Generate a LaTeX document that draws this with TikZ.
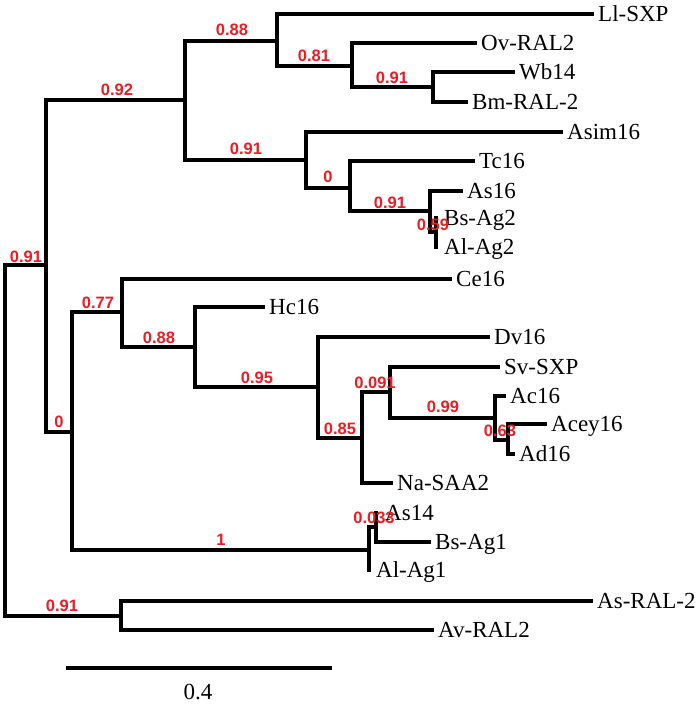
\documentclass[tikz,border=0pt]{standalone}
\usepackage{fontspec}
\setmainfont{Liberation Serif}
\newfontfamily\lblsans{Liberation Sans}
\definecolor{suppred}{RGB}{236,28,36}
\begin{document}
\begin{tikzpicture}[x=1pt,y=-1pt,
  br/.style={line width=3.3pt, line cap=rect, line join=miter},
  brk/.style={br, line width=4.2pt},
  leaf/.style={anchor=west, inner xsep=6pt, inner ysep=0pt, font=\fontsize{23}{23}\selectfont, text height=15.2pt, text depth=0pt},
  bsv/.style={text=suppred, font=\lblsans\bfseries\fontsize{16.5}{16.5}\selectfont, inner sep=0pt}]
\useasboundingbox (0,0) rectangle (700,705);
% internal nodes
\coordinate (r) at (5,616);
\coordinate (a) at (46,265);
\coordinate (ab) at (121,616);
\coordinate (t) at (185,100);
\coordinate (u) at (72,432);
\coordinate (c88) at (277,41);
\coordinate (c81) at (352,66);
\coordinate (c91a) at (433,87);
\coordinate (c91b) at (306,160);
\coordinate (c0) at (350,188);
\coordinate (c91c) at (430,211);
\coordinate (c59) at (436,232);
\coordinate (c77) at (122,312);
\coordinate (c88b) at (195,347);
\coordinate (c95) at (318,387);
\coordinate (c85) at (362,438);
\coordinate (c091) at (390,392);
\coordinate (c99) at (495,418);
\coordinate (c63) at (508,440);
\coordinate (c1) at (369,550);
\coordinate (c033) at (376,527);
% leaves
\node[leaf] (Ll) at (592,14) {Ll-SXP};
\node[leaf] (Ov) at (475,43) {Ov-RAL2};
\node[leaf] (Wb) at (513,72) {Wb14};
\node[leaf] (Bm) at (466,102) {Bm-RAL-2};
\node[leaf] (Asim) at (561,132) {Asim16};
\node[leaf] (Tc) at (473,161) {Tc16};
\node[leaf] (AsA) at (461,191) {As16};
\node[leaf, inner xsep=8pt] (BsAg2) at (436,218) {Bs-Ag2};
\node[leaf, inner xsep=8pt] (AlAg2) at (436,247) {Al-Ag2};
\node[leaf] (Ce) at (450,279) {Ce16};
\node[leaf] (Hc) at (263,307) {Hc16};
\node[leaf] (Dv) at (488,337) {Dv16};
\node[leaf] (Sv) at (498,367) {Sv-SXP};
\node[leaf] (Ac) at (504,396) {Ac16};
\node[leaf] (Acey) at (545,424) {Acey16};
\node[leaf] (Ad) at (513,454) {Ad16};
\node[leaf] (Na) at (391,483) {Na-SAA2};
\node[leaf, inner xsep=9pt] (AsB) at (376,513) {As14};
\node[leaf] (BsAg1) at (429,542) {Bs-Ag1};
\node[leaf, inner xsep=7pt] (AlAg1) at (369,570) {Al-Ag1};
\node[leaf] (AsRAL) at (591,601) {As-RAL-2};
\node[leaf] (AvRAL) at (432,630) {Av-RAL2};
% branches
\draw[brk] (r) |- (a);
\draw[br] (r) |- (ab);
\draw[br] (a) |- (t);
\draw[br] (a) |- (u);
\draw[brk] (t) |- (c88);
\draw[br] (t) |- (c91b);
\draw[brk] (c88) |- (Ll.west);
\draw[br] (c88) |- (c81);
\draw[br] (c81) |- (Ov.west);
\draw[br] (c81) |- (c91a);
\draw[brk] (c91a) |- (Wb.west);
\draw[brk] (c91a) |- (Bm.west);
\draw[brk] (c91b) |- (Asim.west);
\draw[br] (c91b) |- (c0);
\draw[br] (c0) |- (Tc.west);
\draw[br] (c0) |- (c91c);
\draw[brk] (c91c) |- (AsA.west);
\draw[brk] (c91c) |- (c59);
\draw[brk] (c59) |- (436,218);
\draw[brk] (c59) |- (436,247);
\draw[br] (u) |- (c77);
\draw[br] (u) |- (c1);
\draw[br] (c77) |- (Ce.west);
\draw[brk] (c77) |- (c88b);
\draw[br] (c88b) |- (Hc.west);
\draw[br] (c88b) |- (c95);
\draw[brk] (c95) |- (Dv.west);
\draw[br] (c95) |- (c85);
\draw[brk] (c85) |- (c091);
\draw[br] (c85) |- (Na.west);
\draw[br] (c091) |- (Sv.west);
\draw[br] (c091) |- (c99);
\draw[brk] (c99) |- (Ac.west);
\draw[brk] (c99) |- (c63);
\draw[br] (c63) |- (Acey.west);
\draw[brk] (c63) |- (Ad.west);
\draw[br] (c1) |- (c033);
\draw[br] (c1) |- (AlAg1.west);
\draw[brk] (c033) |- (376,513);
\draw[br] (c033) |- (BsAg1.west);
\draw[br] (ab) |- (AsRAL.west);
\draw[br] (ab) |- (AvRAL.west);
% support values
\node[bsv] (s1) at (26,257) {0.91};
\node[bsv] (s2) at (117,90) {0.92};
\node[bsv] (s3) at (232,30) {0.88};
\node[bsv] (s4) at (314,56) {0.81};
\node[bsv] (s5) at (392,78) {0.91};
\node[bsv] (s6) at (246,149) {0.91};
\node[bsv] (s7) at (328,177) {0};
\node[bsv] (s8) at (390,203) {0.91};
\node[bsv] (s9) at (433,225) {0.59};
\node[bsv] (s10) at (59,422) {0};
\node[bsv] (s11) at (98,303) {0.77};
\node[bsv] (s12) at (159,338) {0.88};
\node[bsv] (s13) at (257,378) {0.95};
\node[bsv] (s14) at (340,429) {0.85};
\node[bsv] (s15) at (375,383) {0.091};
\node[bsv] (s16) at (443,407) {0.99};
\node[bsv] (s17) at (500,431) {0.63};
\node[bsv] (s18) at (221,540) {1};
\node[bsv] (s19) at (374,518) {0.033};
\node[bsv] (s20) at (62,606) {0.91};
% scale bar
\coordinate (sb1) at (66,668);
\coordinate (sb2) at (332,668);
\draw[line width=4pt] (sb1) -- (sb2);
\node[font=\fontsize{23}{23}\selectfont, inner sep=0pt] (sbl) at (198,692) {0.4};
\end{tikzpicture}
\end{document}
